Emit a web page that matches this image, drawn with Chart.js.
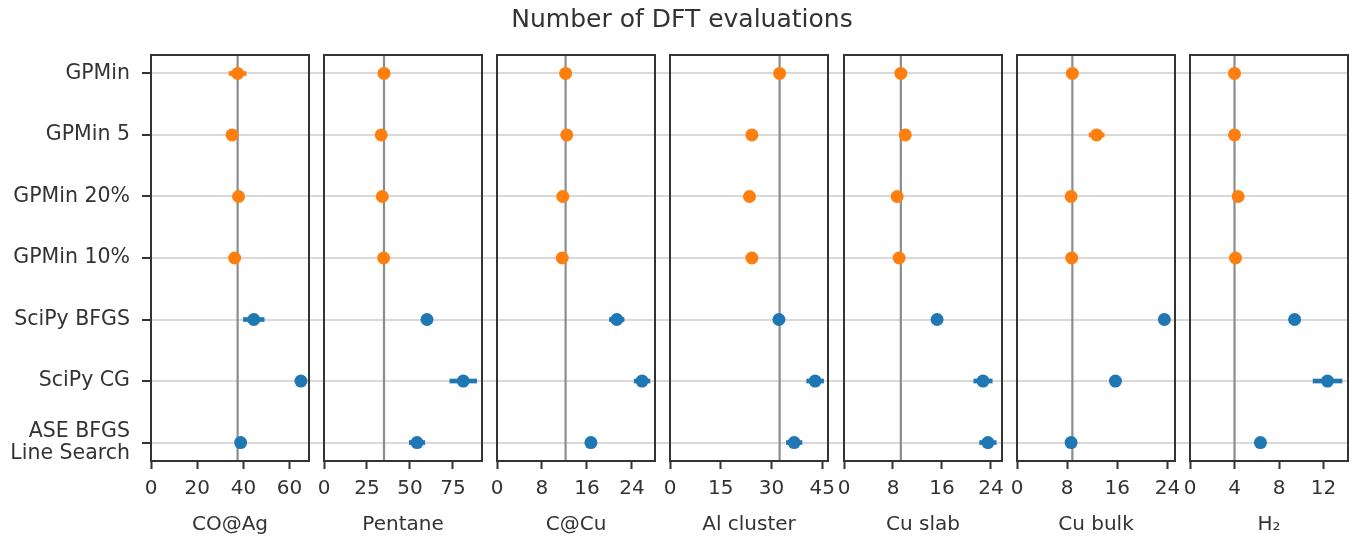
<!DOCTYPE html>
<html>
<head>
<meta charset="utf-8">
<script src="https://cdn.jsdelivr.net/npm/chart.js@4"></script>
<style>
html, body { margin: 0; padding: 0; background: #fff; }
#wrap { position: relative; width: 1354px; height: 537px; }
#wrap canvas { position: absolute; top: 0; }
</style>
</head>
<body>
<div id="wrap"><canvas id="bg" width="1354" height="537" style="left:0"></canvas></div>
<script>
const categories = ['GPMin', 'GPMin 5', 'GPMin 20%', 'GPMin 10%', 'SciPy BFGS', 'SciPy CG', ['ASE BFGS', 'Line Search']];
const systems = ['CO@Ag', 'Pentane', 'C@Cu', 'Al cluster', 'Cu slab', 'Cu bulk', 'H\u2082'];

// mean number of DFT evaluations and error half-width, per optimizer
const coAgMean = [37.5, 35.1, 37.9, 36.2, 44.5, 64.9, 38.8];
const coAgErr = [3.7, 0.8, 1.5, 0.5, 4.5, 0.8, 0.8];
const pentaneMean = [34.9, 33.3, 33.9, 34.7, 59.9, 81.0, 54.1];
const pentaneErr = [1, 1, 1, 1, 2, 7.8, 4.5];
const cCuMean = [12.2, 12.4, 11.7, 11.6, 21.3, 25.8, 16.7];
const cCuErr = [0.3, 0.3, 0.3, 0.3, 1.3, 1.4, 0.3];
const alMean = [32.4, 24.2, 23.5, 24.2, 32.2, 42.9, 36.7];
const alErr = [0.5, 0.5, 0.5, 0.5, 1.0, 2.5, 2.3];
const cuSlabMean = [9.28, 10.0, 8.68, 9.0, 15.2, 22.7, 23.5];
const cuSlabErr = [0.3, 0.3, 0.3, 0.3, 0.3, 1.5, 1.35];
const cuBulkMean = [8.83, 12.7, 8.63, 8.73, 23.5, 15.7, 8.63];
const cuBulkErr = [0.2, 1.2, 0.2, 0.2, 0.3, 0.3, 0.2];
const h2Mean = [4.0, 4.0, 4.33, 4.09, 9.4, 12.36, 6.33];
const h2Err = [0.1, 0.1, 0.2, 0.1, 0.2, 1.3, 0.2];

const axisMax = [68.4, 91.9, 28.1, 46.7, 25.8, 25.2, 14.2];
const tickStep = [20, 25, 8, 15, 8, 8, 4];

const panels = [
  {mean: coAgMean, err: coAgErr},
  {mean: pentaneMean, err: pentaneErr},
  {mean: cCuMean, err: cCuErr},
  {mean: alMean, err: alErr},
  {mean: cuSlabMean, err: cuSlabErr},
  {mean: cuBulkMean, err: cuBulkErr},
  {mean: h2Mean, err: h2Err}
];

const ORANGE = '#ff7f0e', BLUE = '#1f77b4';
const colors = categories.map((c, k) => k < 4 ? ORANGE : BLUE);

Chart.defaults.font.family = 'DejaVu Sans';
Chart.defaults.color = '#333';

// figure title, centred a little right of the canvas middle like the original
const suptitle = {
  id: 'suptitle',
  afterDraw(chart, args, opts) {
    const { ctx } = chart;
    ctx.save();
    ctx.font = 'normal 25px "DejaVu Sans"';
    ctx.fillStyle = '#333';
    ctx.textAlign = 'center';
    ctx.textBaseline = 'middle';
    ctx.fillText(opts.text, chart.width / 2 + 5, 20);
    ctx.restore();
  }
};

// background: row labels, title and the horizontal grid that runs through all panels
new Chart(document.getElementById('bg'), {
  type: 'scatter',
  data: { datasets: [] },
  options: {
    responsive: false,
    animation: false,
    layout: { padding: { left: 0, right: 6, top: 55, bottom: 76 } },
    plugins: {
      legend: { display: false },
      tooltip: { enabled: false },
      suptitle: { text: 'Number of DFT evaluations' }
    },
    scales: {
      x: { display: false, min: 0, max: 1 },
      y: {
        min: -0.3, max: 6.3, reverse: true, offset: false,
        afterBuildTicks: s => { s.ticks = categories.map((c, k) => ({ value: k })); },
        afterFit: s => { s.width = 151; },
        ticks: { callback: v => categories[v], color: '#333', font: { size: 20.5, lineHeight: 1.05 }, padding: 12 },
        grid: { color: '#d9d9d9', lineWidth: 2, tickColor: '#333', tickLength: 9, tickWidth: 2 },
        border: { display: false }
      }
    }
  },
  plugins: [suptitle]
});

// reference line at the GPMin value, and the box around each panel
const panelDecor = {
  id: 'panelDecor',
  beforeDatasetsDraw(chart, args, opts) {
    const { ctx, chartArea: a, scales: { x } } = chart;
    const px = x.getPixelForValue(opts.ref);
    ctx.save();
    ctx.strokeStyle = '#8c8c8c';
    ctx.lineWidth = 2.2;
    ctx.beginPath();
    ctx.moveTo(px, a.top);
    ctx.lineTo(px, a.bottom);
    ctx.stroke();
    ctx.restore();
  },
  afterDatasetsDraw(chart) {
    const { ctx, chartArea: a } = chart;
    ctx.save();
    ctx.strokeStyle = '#333';
    ctx.lineWidth = 2;
    ctx.strokeRect(a.left, a.top, a.right - a.left, a.bottom - a.top);
    ctx.restore();
  }
};

const PAD = 30, PLOT_W = 158;
const wrap = document.getElementById('wrap');

panels.forEach((p, i) => {
  const left = Math.round(150.5 + 173.3 * i);
  const cv = document.createElement('canvas');
  cv.width = PLOT_W + 2 * PAD;
  cv.height = 537;
  cv.style.left = (left - PAD) + 'px';
  wrap.appendChild(cv);

  new Chart(cv, {
    type: 'scatter',
    data: {
      datasets: [
        {
          type: 'bar',
          indexAxis: 'y',
          data: p.mean.map((m, k) => ({ y: k, x: [m - p.err[k], m + p.err[k]] })),
          backgroundColor: colors,
          barThickness: 4,
          grouped: false,
          clip: false,
          order: 2
        },
        {
          type: 'scatter',
          data: p.mean.map((m, k) => ({ x: m, y: k })),
          backgroundColor: colors,
          pointRadius: 6.5,
          pointBorderWidth: 0,
          clip: false,
          order: 1
        }
      ]
    },
    options: {
      responsive: false,
      animation: false,
      layout: { padding: { left: PAD, right: PAD, top: 55, bottom: 0 } },
      plugins: {
        legend: { display: false },
        tooltip: { enabled: false },
        panelDecor: { ref: p.mean[0] }
      },
      scales: {
        x: {
          min: 0, max: axisMax[i], offset: false,
          afterFit: s => { s.height = 76; },
          ticks: { stepSize: tickStep[i], includeBounds: false, color: '#333', font: { size: 20 }, padding: 8 },
          grid: { drawOnChartArea: false, drawTicks: true, tickLength: 8, tickColor: '#333', tickWidth: 2, offset: false },
          border: { display: false },
          title: { display: true, text: systems[i], color: '#333', font: { size: 20 }, padding: { top: 0, bottom: 0 } }
        },
        y: { display: false, min: -0.3, max: 6.3, reverse: true, offset: false }
      }
    },
    plugins: [panelDecor]
  });
});
</script>
</body>
</html>
